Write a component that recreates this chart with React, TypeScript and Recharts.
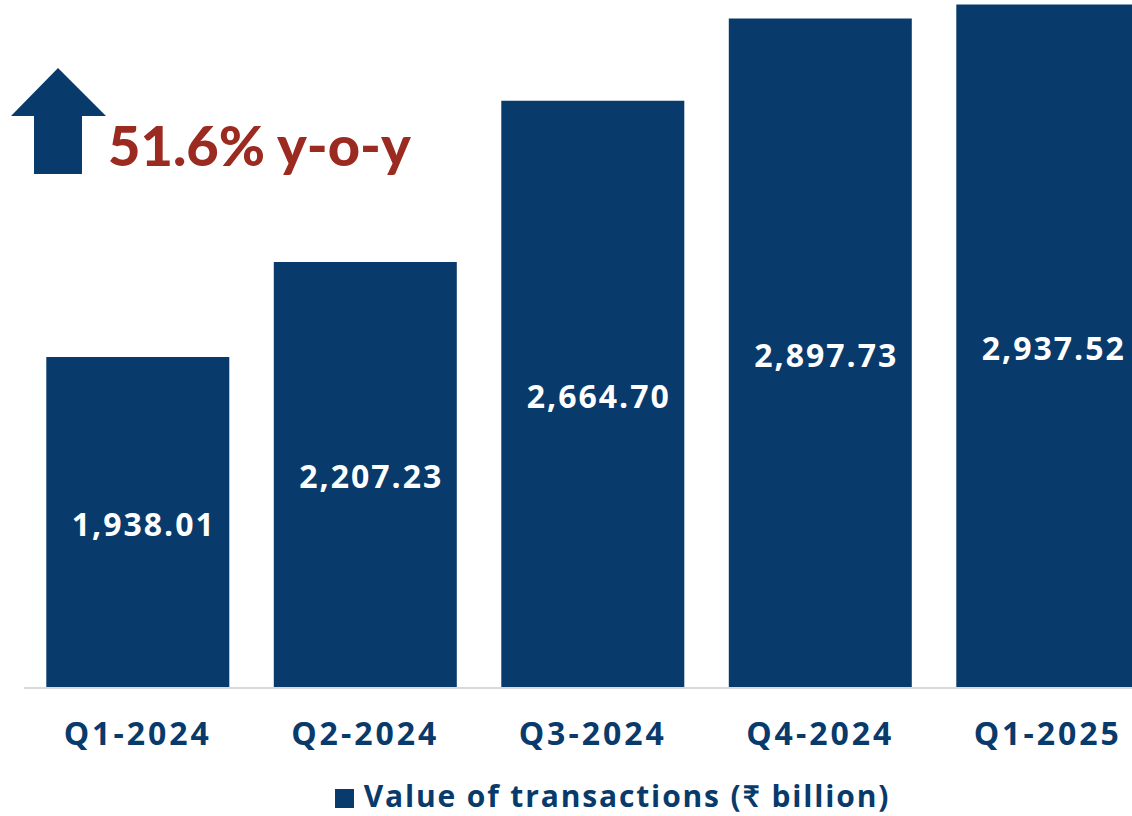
import React from "react";
import { BarChart, Bar, XAxis, YAxis, LabelList, Legend } from "recharts";

const categories = ["Q1-2024", "Q2-2024", "Q3-2024", "Q4-2024", "Q1-2025"];
const values = [1938.01, 2207.23, 2664.7, 2897.73, 2937.52];
const seriesName = "Value of transactions (₹ billion)";
const headline = "51.6% y-o-y";

const data = categories.map((q, i) => ({ q, v: values[i] }));

const NAVY = "#083a6b";
const RED = "#9b2a20";
const FONT = "'Open Sans', Lato, 'DejaVu Sans', sans-serif";
const HEAD_FONT = "Lato, 'Open Sans', sans-serif";

const fmt = (v: number) =>
  v.toLocaleString("en-US", { minimumFractionDigits: 2, maximumFractionDigits: 2 });

const LegendContent = () => (
  <div
    style={{
      display: "flex",
      justifyContent: "center",
      alignItems: "center",
      fontFamily: FONT,
      fontWeight: 700,
      fontSize: 30,
      letterSpacing: 1.85,
      color: NAVY,
      paddingTop: 19,
      paddingLeft: 93,
      whiteSpace: "nowrap",
    }}
  >
    <span
      style={{
        display: "inline-block",
        width: 19,
        height: 19,
        background: NAVY,
        marginRight: 10,
        position: "relative",
        top: 3,
      }}
    />
    <span>{seriesName}</span>
  </div>
);

export default function App() {
  return (
    <div
      style={{
        position: "fixed",
        left: 0,
        top: 0,
        width: 1132,
        height: 816,
        overflow: "hidden",
        background: "#fff",
      }}
    >
      <BarChart
        width={1170}
        height={816}
        data={data}
        margin={{ top: 0, right: 8.5, bottom: 0, left: 24 }}
        barCategoryGap="9.8%"
      >
        <XAxis
          dataKey="q"
          axisLine={{ stroke: "#d9d9d9", strokeWidth: 2 }}
          tickLine={false}
          height={68}
          tickMargin={28}
          tick={{ fill: NAVY, fontSize: 32, fontWeight: 700, fontFamily: FONT, letterSpacing: 3 }}
        />
        <YAxis hide domain={[1000, 2950]} allowDataOverflow />
        <Legend
          verticalAlign="bottom"
          height={60}
          wrapperStyle={{ left: 0, width: 1132 }}
          content={<LegendContent />}
        />
        <Bar dataKey="v" fill={NAVY} isAnimationActive={false} name={seriesName}>
          <LabelList
            dataKey="v"
            position="center"
            formatter={(v: any) => fmt(Number(v))}
            fill="#ffffff"
            dx={6}
            dy={2}
            style={{ fontSize: 32, fontWeight: 700, fontFamily: FONT, letterSpacing: 2 }}
          />
        </Bar>
      </BarChart>
      <svg
        style={{ position: "absolute", left: 0, top: 0 }}
        width={120}
        height={180}
      >
        <polygon
          points="58,68 106,116 82,116 82,174 34,174 34,116 11,116"
          fill={NAVY}
        />
      </svg>
      <div
        style={{
          position: "absolute",
          left: 108,
          top: 105,
          fontFamily: HEAD_FONT,
          fontWeight: 900,
          fontSize: 56,
          color: RED,
          lineHeight: "80px",
          whiteSpace: "nowrap",
        }}
      >
        {headline}
      </div>
    </div>
  );
}
